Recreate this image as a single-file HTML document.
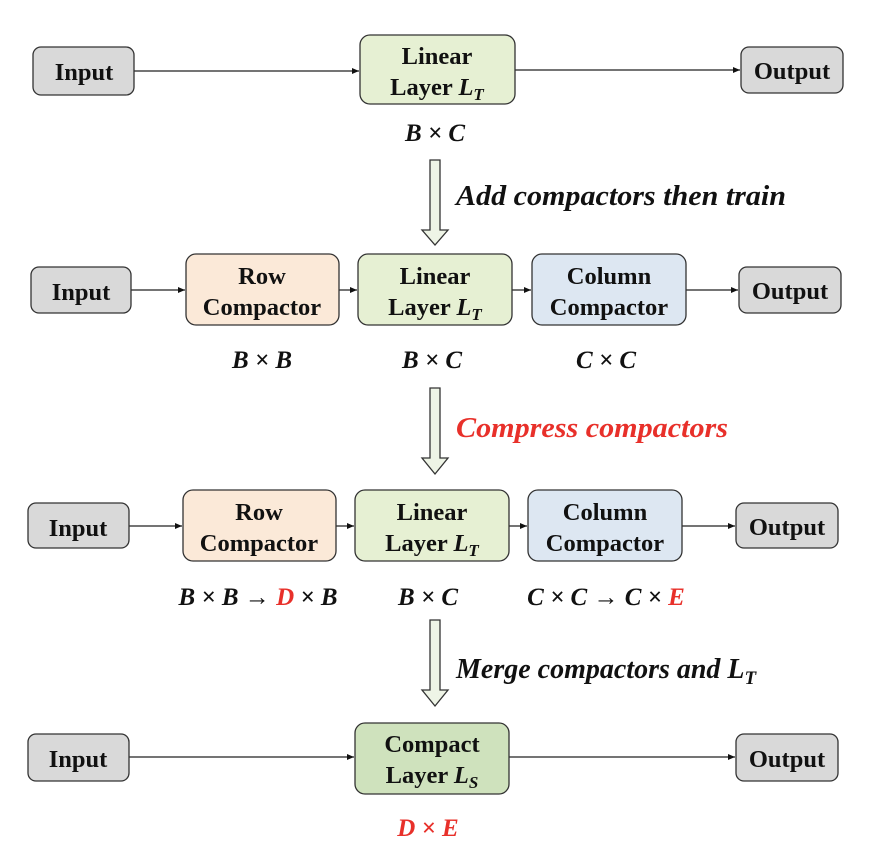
<!DOCTYPE html>
<html><head><meta charset="utf-8"><style>html,body{margin:0;padding:0;background:#fff}svg{display:block}</style></head><body>
<svg width="874" height="860" viewBox="0 0 874 860" xmlns="http://www.w3.org/2000/svg" font-family="Liberation Serif, serif" font-weight="bold">
<defs><marker id="a" markerWidth="8" markerHeight="8" refX="7" refY="4" orient="auto" markerUnits="userSpaceOnUse"><path d="M0,1 L7,4 L0,7 z" fill="#111"/></marker></defs>
<g stroke="#222" stroke-width="1.3" fill="none" marker-end="url(#a)">
<line x1="134" y1="71" x2="359" y2="71"/><line x1="515" y1="70" x2="740" y2="70"/>
<line x1="131" y1="290" x2="185" y2="290"/><line x1="339" y1="290" x2="357" y2="290"/><line x1="512" y1="290" x2="531" y2="290"/><line x1="686" y1="290" x2="738" y2="290"/>
<line x1="129" y1="526" x2="182" y2="526"/><line x1="336" y1="526" x2="354" y2="526"/><line x1="509" y1="526" x2="527" y2="526"/><line x1="682" y1="526" x2="735" y2="526"/>
<line x1="129" y1="757" x2="354" y2="757"/><line x1="509" y1="757" x2="735" y2="757"/>
</g>
<g stroke="#333" stroke-width="1.3">
<rect x="33" y="47" width="101" height="48" rx="8" fill="#d9d9d9"/>
<rect x="360" y="35" width="155" height="69" rx="10" fill="#e6f0d3"/>
<rect x="741" y="47" width="102" height="46" rx="8" fill="#d9d9d9"/>
<rect x="31" y="267" width="100" height="46" rx="8" fill="#d9d9d9"/>
<rect x="186" y="254" width="153" height="71" rx="10" fill="#fbe9d8"/>
<rect x="358" y="254" width="154" height="71" rx="10" fill="#e6f0d3"/>
<rect x="532" y="254" width="154" height="71" rx="10" fill="#dde7f2"/>
<rect x="739" y="267" width="102" height="46" rx="8" fill="#d9d9d9"/>
<rect x="28" y="503" width="101" height="45" rx="8" fill="#d9d9d9"/>
<rect x="183" y="490" width="153" height="71" rx="10" fill="#fbe9d8"/>
<rect x="355" y="490" width="154" height="71" rx="10" fill="#e6f0d3"/>
<rect x="528" y="490" width="154" height="71" rx="10" fill="#dde7f2"/>
<rect x="736" y="503" width="102" height="45" rx="8" fill="#d9d9d9"/>
<rect x="28" y="734" width="101" height="47" rx="8" fill="#d9d9d9"/>
<rect x="355" y="723" width="154" height="71" rx="10" fill="#cfe2bd"/>
<rect x="736" y="734" width="102" height="47" rx="8" fill="#d9d9d9"/>
<path d="M430,160 h10 v70 h8 l-13,15 l-13,-15 h8 z" fill="#eef4e6"/>
<path d="M430,388 h10 v70 h8 l-13,16 l-13,-16 h8 z" fill="#eef4e6"/>
<path d="M430,620 h10 v70 h8 l-13,16 l-13,-16 h8 z" fill="#eef4e6"/>
</g>
<g font-size="24.5" text-anchor="middle" fill="#111">
<text x="84" y="80">Input</text><text x="792" y="79">Output</text>
<text x="437" y="64">Linear</text><text x="437" y="95">Layer <tspan font-style="italic">L</tspan><tspan font-style="italic" font-size="17" dy="5">T</tspan></text>
<text x="81" y="300">Input</text><text x="790" y="299">Output</text>
<text x="262" y="284">Row</text><text x="262" y="315">Compactor</text>
<text x="435" y="284">Linear</text><text x="435" y="315">Layer <tspan font-style="italic">L</tspan><tspan font-style="italic" font-size="17" dy="5">T</tspan></text>
<text x="609" y="284">Column</text><text x="609" y="315">Compactor</text>
<text x="78" y="536">Input</text><text x="787" y="535">Output</text>
<text x="259" y="520">Row</text><text x="259" y="551">Compactor</text>
<text x="432" y="520">Linear</text><text x="432" y="551">Layer <tspan font-style="italic">L</tspan><tspan font-style="italic" font-size="17" dy="5">T</tspan></text>
<text x="605" y="520">Column</text><text x="605" y="551">Compactor</text>
<text x="78" y="767">Input</text><text x="787" y="767">Output</text>
<text x="432" y="752">Compact</text><text x="432" y="783">Layer <tspan font-style="italic">L</tspan><tspan font-style="italic" font-size="17" dy="5">S</tspan></text>
</g>
<g font-size="25" font-style="italic" text-anchor="middle" fill="#111">
<text x="435" y="141">B × C</text>
<text x="262" y="368">B × B</text><text x="432" y="368">B × C</text><text x="606" y="368">C × C</text>
<text x="258" y="605">B × B → <tspan fill="#e8302a">D</tspan> × B</text>
<text x="428" y="605">B × C</text>
<text x="606" y="605">C × C → C × <tspan fill="#e8302a">E</tspan></text>
<text x="428" y="836" fill="#e8302a">D × E</text>
</g>
<g font-size="28" font-style="italic" fill="#111">
<text x="456" y="205" textLength="330" lengthAdjust="spacingAndGlyphs">Add compactors then train</text>
<text x="456" y="437" fill="#e8302a" textLength="272" lengthAdjust="spacingAndGlyphs">Compress compactors</text>
<text x="456" y="678">Merge compactors and L<tspan font-size="19" dy="6">T</tspan></text>
</g>
</svg>
</body></html>
